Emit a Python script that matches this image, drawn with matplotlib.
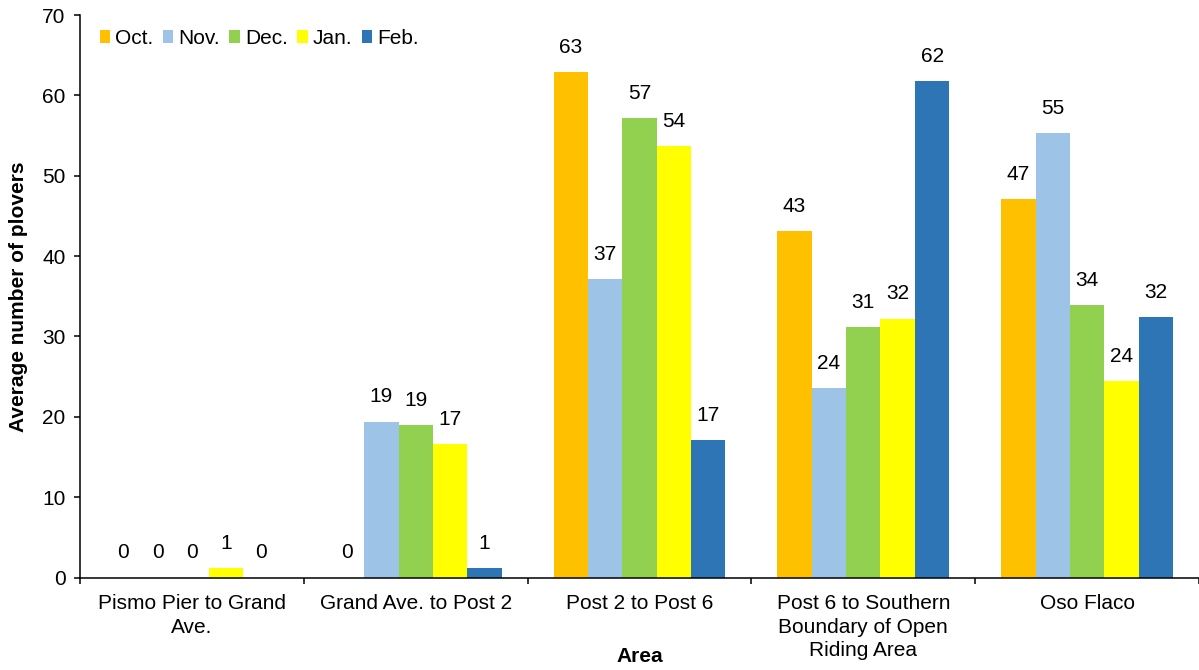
import numpy as np
import matplotlib
matplotlib.use("Agg")
import matplotlib.pyplot as plt

plt.rcParams['font.family'] = ['Liberation Sans', 'DejaVu Sans']

areas = ["Pismo Pier to Grand\nAve.", "Grand Ave. to Post 2", "Post 2 to Post 6",
         "Post 6 to Southern\nBoundary of Open\nRiding Area", "Oso Flaco"]
months = ["Oct.", "Nov.", "Dec.", "Jan.", "Feb."]
colors = ["#FFC000", "#9DC3E6", "#92D050", "#FFFF00", "#2E75B6"]

oct_vals = [0, 0, 62.9, 43.1, 47.1]
nov_vals = [0, 19.4, 37.1, 23.6, 55.3]
dec_vals = [0, 19.0, 57.2, 31.2, 33.9]
jan_vals = [1.2, 16.6, 53.7, 32.2, 24.4]
feb_vals = [0, 1.2, 17.1, 61.8, 32.4]
series = [oct_vals, nov_vals, dec_vals, jan_vals, feb_vals]

fig = plt.figure(figsize=(11.99, 6.70), dpi=100)
ax = fig.add_axes([80 / 1199, 92.5 / 670, 1 - 80 / 1199, 562.5 / 670])

x = np.arange(len(areas))
w = 0.1537
for i, (vals, m, c) in enumerate(zip(series, months, colors)):
    pos = x + (i - 2) * w
    ax.bar(pos, vals, width=w, color=c, label=m, linewidth=0)
    for xp, v in zip(pos, vals):
        ax.annotate(f"{v:.0f}", (xp, v), xytext=(0, 11), textcoords="offset points",
                    ha="center", va="bottom", fontsize=15)

ax.set_ylim(0, 70)
ax.set_xlim(-0.5, 4.469)
ax.set_yticks(range(0, 71, 10))
ax.set_xticks(x)
ax.set_xticklabels(areas, fontsize=15, linespacing=1.3)
ax.set_xticks(np.arange(-0.5, 5, 1), minor=True)
ax.tick_params(axis="x", which="major", length=0, pad=12)
ax.tick_params(axis="x", which="minor", length=4, width=1.1)
ax.tick_params(axis="y", length=4.5, width=1.1, labelsize=15, pad=6)

for s in ["top", "right"]:
    ax.spines[s].set_visible(False)
for s in ["left", "bottom"]:
    ax.spines[s].set_linewidth(1.1)

ax.set_ylabel("Average number of plovers", fontsize=15, fontweight="bold",
              va="center", ha="center")
ax.yaxis.set_label_coords(-0.055, 0.5)
ax.set_xlabel("Area", fontsize=15, fontweight="bold")
ax.xaxis.set_label_coords(0.5, -0.141)
ax.xaxis.label.set_va("center")

ax.legend(loc="upper left", bbox_to_anchor=(0.01, 0.99), ncol=5, frameon=False,
          fontsize=15, handlelength=0.5, handleheight=0.55, handletextpad=0.25,
          columnspacing=0.45, borderaxespad=0)

fig.savefig("out.png", dpi=100)
